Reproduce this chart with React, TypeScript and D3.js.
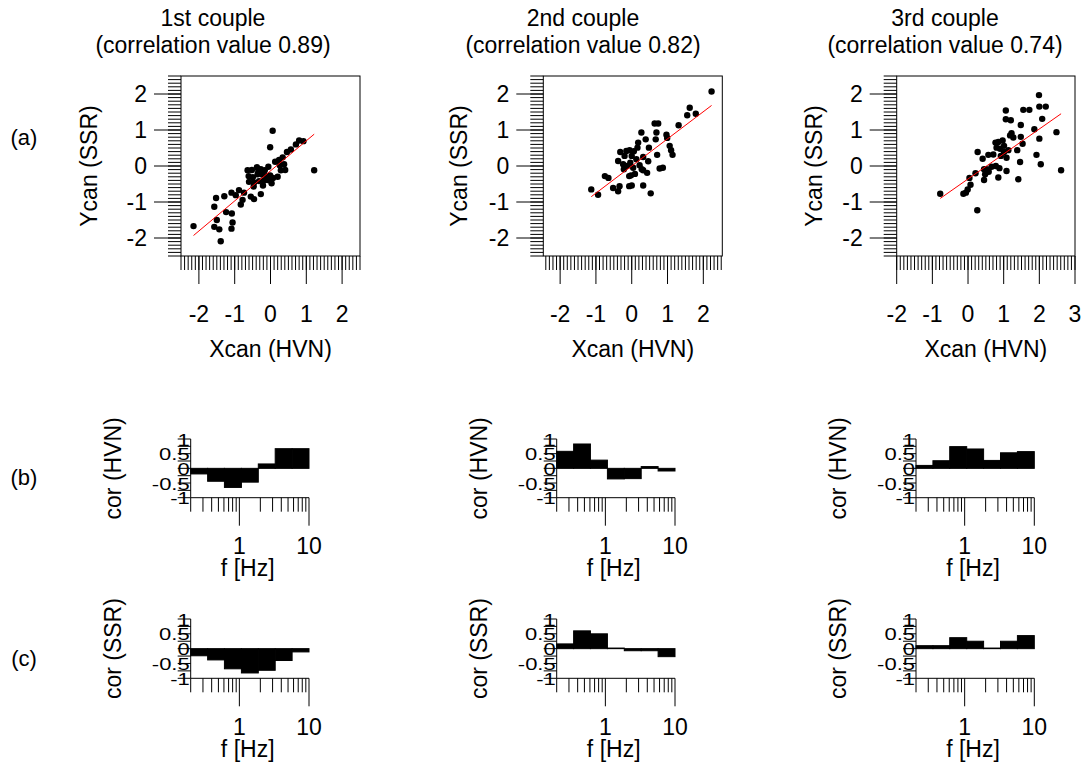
import React from "react";
import * as d3 from "d3";

const coupleTitles = ["1st couple", "2nd couple", "3rd couple"];
const corrValues = ["0.89", "0.82", "0.74"];
const rowLabels = ["(a)", "(b)", "(c)"];

// Scatter data (canonical variates)
const p1x = [-2.15, -1.39, -1.57, -1.43, -1.5, -1.09, -1.06, -1.57, -1.52, -1.29, -1.24, -1.08, -1.09, -0.97, -0.88, -0.83, -0.78, -0.55, -0.46, -0.27, -0.64, -0.52, -0.38, -0.27, -0.16, -0.06, -0.61, -0.49, -0.36, -0.22, -0.11, -0.01, -0.6, -0.46, -0.32, -0.18, -0.07, 0.07, -0.47, -0.21, 0.03, 0.2, 0.29, 0.41, 0.26, 0.38, 0.13, 0.24, 0.34, 0.46, 0.57, 0.71, 0.8, 0.92, -0.01, 0.06, 1.22, -0.74, -0.34];
const p1y = [-1.67, -2.09, -1.69, -1.76, -1.5, -1.74, -1.57, -1.13, -0.89, -0.84, -1.28, -1.32, -0.74, -0.81, -0.67, -1.07, -0.94, -0.85, -0.92, -0.78, -0.12, -0.11, -0.03, -0.09, -0.12, -0.02, -0.28, -0.31, -0.23, -0.24, -0.28, -0.26, -0.44, -0.46, -0.42, -0.4, -0.39, -0.33, -0.57, -0.54, -0.48, -0.3, -0.12, -0.11, 0.02, 0.05, 0.12, 0.17, 0.24, 0.39, 0.46, 0.6, 0.71, 0.69, 0.52, 0.98, -0.12, -0.74, -0.14];

const p2x = [2.23, 1.62, 1.55, 1.79, 1.31, 0.64, 0.74, 0.97, 0.99, 0.27, 0.69, 0.39, 0.67, 0.18, 0.16, 0.48, 1.06, 1.1, 1.14, -0.15, -0.06, 0.06, -0.2, 0.0, -0.38, 0.32, 0.46, 0.71, -0.24, -0.22, -0.04, 0.04, 0.22, 0.28, -0.07, -0.02, 0.09, 0.32, 0.43, 0.78, 0.87, -0.75, -0.65, -0.52, -0.34, -0.38, -0.07, 0.0, 0.32, 0.53, -1.13, -0.94, -0.32, 0.13, -0.13];
const p2y = [2.07, 1.62, 1.41, 1.45, 1.13, 1.18, 1.18, 0.87, 0.78, 0.93, 0.93, 0.74, 0.74, 0.65, 0.51, 0.51, 0.56, 0.44, 0.31, 0.42, 0.44, 0.41, 0.28, 0.28, 0.14, 0.25, 0.13, 0.31, 0.05, -0.09, 0.09, -0.05, 0.02, -0.09, -0.28, -0.26, -0.22, -0.12, -0.19, -0.07, -0.05, -0.28, -0.33, -0.61, -0.56, -0.7, -0.56, -0.54, -0.54, -0.76, -0.65, -0.8, 0.39, 0.19, 0.0];

const p3x = [-0.78, 0.26, -0.13, -0.06, -0.01, 0.07, 0.04, 0.21, 0.27, 0.45, 0.48, 0.41, 0.57, 0.71, 0.52, 0.58, 0.85, 0.78, 0.88, 0.8, 0.85, 0.97, 0.9, 1.01, 1.08, 1.13, 1.08, 1.18, 1.27, 1.22, 1.06, 1.06, 1.2, 1.38, 1.41, 1.46, 1.48, 1.53, 1.48, 1.55, 1.72, 1.86, 1.92, 2.0, 1.99, 2.0, 2.18, 2.08, 2.04, 2.48, 2.61, 0.92, 0.66, 0.45, 1.01, 0.77];
const p3y = [-0.77, -1.23, -0.77, -0.74, -0.65, -0.52, -0.33, -0.2, 0.39, -0.39, -0.23, 0.2, 0.31, 0.32, -0.09, -0.16, -0.32, 0.0, -0.06, 0.51, 0.67, 0.71, 0.48, 0.56, 0.23, 0.44, -0.14, 0.85, 0.79, 0.91, 1.54, 1.3, 1.27, 0.44, -0.37, 0.11, 0.81, 0.62, 1.14, 1.56, 1.56, 1.02, 0.31, 0.76, 1.97, 1.65, 1.65, 1.31, 0.05, 0.94, -0.12, 0.28, -0.02, -0.09, 0.39, 0.65];

const scatterX = [p1x, p2x, p3x];
const scatterY = [p1y, p2y, p3y];

// Fitted (red) lines
const fitSlope = [0.835, 0.754, 0.694];
const fitIntercept = [-0.135, 0.0, -0.36];

const xDomains: [number, number][] = [[-2.5, 2.5], [-2.47, 2.53], [-2, 3]];
const yDomain: [number, number] = [-2.5, 2.5];

// Frequency bins (Hz) and correlations per bin
const freqEdges = [0.2, 0.35, 0.61, 1.07, 1.87, 3.27, 5.72, 10];
const corHVN = [
  [-0.19, -0.44, -0.65, -0.47, 0.15, 0.67, 0.67],
  [0.58, 0.83, 0.28, -0.36, -0.35, 0.06, -0.09],
  [0.1, 0.26, 0.74, 0.66, 0.27, 0.53, 0.57],
];
const corSSR = [
  [-0.24, -0.38, -0.68, -0.82, -0.73, -0.4, -0.11],
  [0.16, 0.6, 0.5, 0.02, -0.07, -0.07, -0.27],
  [0.1, 0.1, 0.37, 0.25, 0.02, 0.25, 0.44],
];
const barYTicks = [-1, -0.5, 0, 0.5, 1];
const barYTickLabels = ["-1", "-0.5", "0", "0.5", "1"];
const freqMajor = [1, 10];
const freqMajorLabels = ["1", "10"];

const FONT = "'Liberation Sans', Arial, Helvetica, sans-serif";
const FS = 23;

function Scatter({ i }: { i: number }) {
  const boxLeft = [181, 543.3, 896.7][i];
  const boxRight = [360, 722.3, 1075][i];
  const ylabX = [97, 467, 822][i];
  const top = 76, bottom = 256;
  const x = d3.scaleLinear().domain(xDomains[i]).range([boxLeft, boxRight]);
  const y = d3.scaleLinear().domain(yDomain).range([bottom, top]);
  const [d0, d1] = xDomains[i];
  const xMinor = d3.range(Math.ceil(d0 * 10 - 1e-6), Math.floor(d1 * 10 + 1e-6) + 1).map((v) => v / 10);
  const xMajor = d3.range(Math.ceil(d0), Math.floor(d1) + 1);
  const yMinor = d3.range(-25, 26).map((v) => v / 10);
  const yMajor = [-2, -1, 0, 1, 2];
  const xs = scatterX[i], ys = scatterY[i];
  const ext = d3.extent(xs) as [number, number];
  const line = d3.line<number>().x((v) => x(v)).y((v) => y(fitIntercept[i] + fitSlope[i] * v));
  const cx = (boxLeft + boxRight) / 2;
  const cy = (top + bottom) / 2;
  return (
    <g>
      <rect x={boxLeft} y={top} width={boxRight - boxLeft} height={bottom - top} fill="none" stroke="#000" strokeWidth={1} />
      {yMinor.map((v, k) => (
        <line key={"ym" + k} x1={boxLeft} x2={boxLeft - 13} y1={y(v)} y2={y(v)} stroke="#000" strokeWidth={1} />
      ))}
      {yMajor.map((v, k) => (
        <g key={"yM" + k}>
          <line x1={boxLeft} x2={boxLeft - 27} y1={y(v)} y2={y(v)} stroke="#000" strokeWidth={1} />
          <text x={boxLeft - 34} y={y(v) + 8} textAnchor="end" fontSize={FS} fontFamily={FONT}>{String(v)}</text>
        </g>
      ))}
      {xMinor.map((v, k) => (
        <line key={"xm" + k} x1={x(v)} x2={x(v)} y1={bottom} y2={bottom + 14} stroke="#000" strokeWidth={1} />
      ))}
      {xMajor.map((v, k) => (
        <g key={"xM" + k}>
          <line x1={x(v)} x2={x(v)} y1={bottom} y2={bottom + 28} stroke="#000" strokeWidth={1} />
          <text x={x(v)} y={322} textAnchor="middle" fontSize={FS} fontFamily={FONT}>{String(v)}</text>
        </g>
      ))}
      {xs.map((v, k) => (
        <circle key={"p" + k} cx={x(v)} cy={y(ys[k])} r={3.2} fill="#000" />
      ))}
      <path d={line(ext) || ""} stroke="#ff0000" strokeWidth={1} fill="none" />
      <text x={cx} y={356.5} textAnchor="middle" fontSize={FS} fontFamily={FONT}>Xcan (HVN)</text>
      <text transform={`translate(${ylabX},${cy}) rotate(-90)`} textAnchor="middle" fontSize={FS} fontFamily={FONT}>Ycan (SSR)</text>
    </g>
  );
}

function Bars({ i, row }: { i: number; row: number }) {
  const x0 = [190.7, 556.7, 916][i];
  const yTop = row === 0 ? 439 : 619;
  const yBot = row === 0 ? 497.7 : 678.3;
  const vals = row === 0 ? corHVN[i] : corSSR[i];
  const x = d3.scaleLog().domain([0.2, 10]).range([x0, x0 + 118.3]);
  const y = d3.scaleLinear().domain([-1, 1]).range([yBot, yTop]);
  const yTicks = d3.range(-4, 5).map((v) => v / 4);
  const minor = [0.2, 0.3, 0.4, 0.5, 0.6, 0.7, 0.8, 0.9, 2, 3, 4, 5, 6, 7, 8, 9];
  const label = row === 0 ? "cor (HVN)" : "cor (SSR)";
  const tickBase = yBot + 56.5;
  const xlabBase = yBot + 78.3;
  return (
    <g>
      {vals.map((v, k) => {
        const a = x(freqEdges[k]), b = x(freqEdges[k + 1]);
        const y1 = y(Math.max(0, v)), y2 = y(Math.min(0, v));
        return <rect key={"b" + k} x={a} y={y1} width={b - a} height={Math.max(0.5, y2 - y1)} fill="#000" stroke="#000" strokeWidth={1} />;
      })}
      <line x1={x0} x2={x0} y1={y(-1)} y2={y(1)} stroke="#000" strokeWidth={1} />
      {yTicks.map((v, k) => (
        <line key={"yt" + k} x1={x0} x2={x0 - 13} y1={y(v)} y2={y(v)} stroke="#000" strokeWidth={1} />
      ))}
      {barYTicks.map((v, k) => (
        <text key={"yl" + k} transform={`translate(${x0 - 1},${y(v) + 6.5}) scale(1,0.78)`} textAnchor="end" fontSize={22} fontFamily={FONT}>{barYTickLabels[k]}</text>
      ))}
      <line x1={x0} x2={x0 + 118.3} y1={y(-1)} y2={y(-1)} stroke="#000" strokeWidth={1} />
      {minor.map((v, k) => (
        <line key={"xm" + k} x1={x(v)} x2={x(v)} y1={y(-1)} y2={y(-1) + 14} stroke="#000" strokeWidth={1} />
      ))}
      {freqMajor.map((v, k) => (
        <g key={"xM" + k}>
          <line x1={x(v)} x2={x(v)} y1={y(-1)} y2={y(-1) + 28} stroke="#000" strokeWidth={1} />
          <text x={x(v)} y={tickBase} textAnchor="middle" fontSize={FS} fontFamily={FONT}>{freqMajorLabels[k]}</text>
        </g>
      ))}
      <text x={x0 + 57} y={xlabBase} textAnchor="middle" fontSize={FS} fontFamily={FONT}>f [Hz]</text>
      <text transform={`translate(${x0 - 70},${(yTop + yBot) / 2}) rotate(-90)`} textAnchor="middle" fontSize={FS} fontFamily={FONT}>{label}</text>
    </g>
  );
}

export default function App() {
  const titleX = [213, 583, 945];
  const rowY = [145, 485, 666];
  return (
    <svg width={1084} height={766} style={{ position: "absolute", left: 0, top: 0, background: "#fff" }}>
      <rect x={0} y={0} width={1084} height={766} fill="#fff" />
      {coupleTitles.map((t, i) => (
        <g key={"t" + i}>
          <text x={titleX[i]} y={26} textAnchor="middle" fontSize={FS} fontFamily={FONT}>{t}</text>
          <text x={titleX[i]} y={53} textAnchor="middle" fontSize={FS} fontFamily={FONT}>{`(correlation value ${corrValues[i]})`}</text>
        </g>
      ))}
      {rowLabels.map((t, k) => (
        <text key={"r" + k} x={24} y={rowY[k]} textAnchor="middle" fontSize={22} fontFamily={FONT}>{t}</text>
      ))}
      {[0, 1, 2].map((i) => <Scatter key={"s" + i} i={i} />)}
      {[0, 1, 2].map((i) => <Bars key={"bh" + i} i={i} row={0} />)}
      {[0, 1, 2].map((i) => <Bars key={"bs" + i} i={i} row={1} />)}
    </svg>
  );
}
